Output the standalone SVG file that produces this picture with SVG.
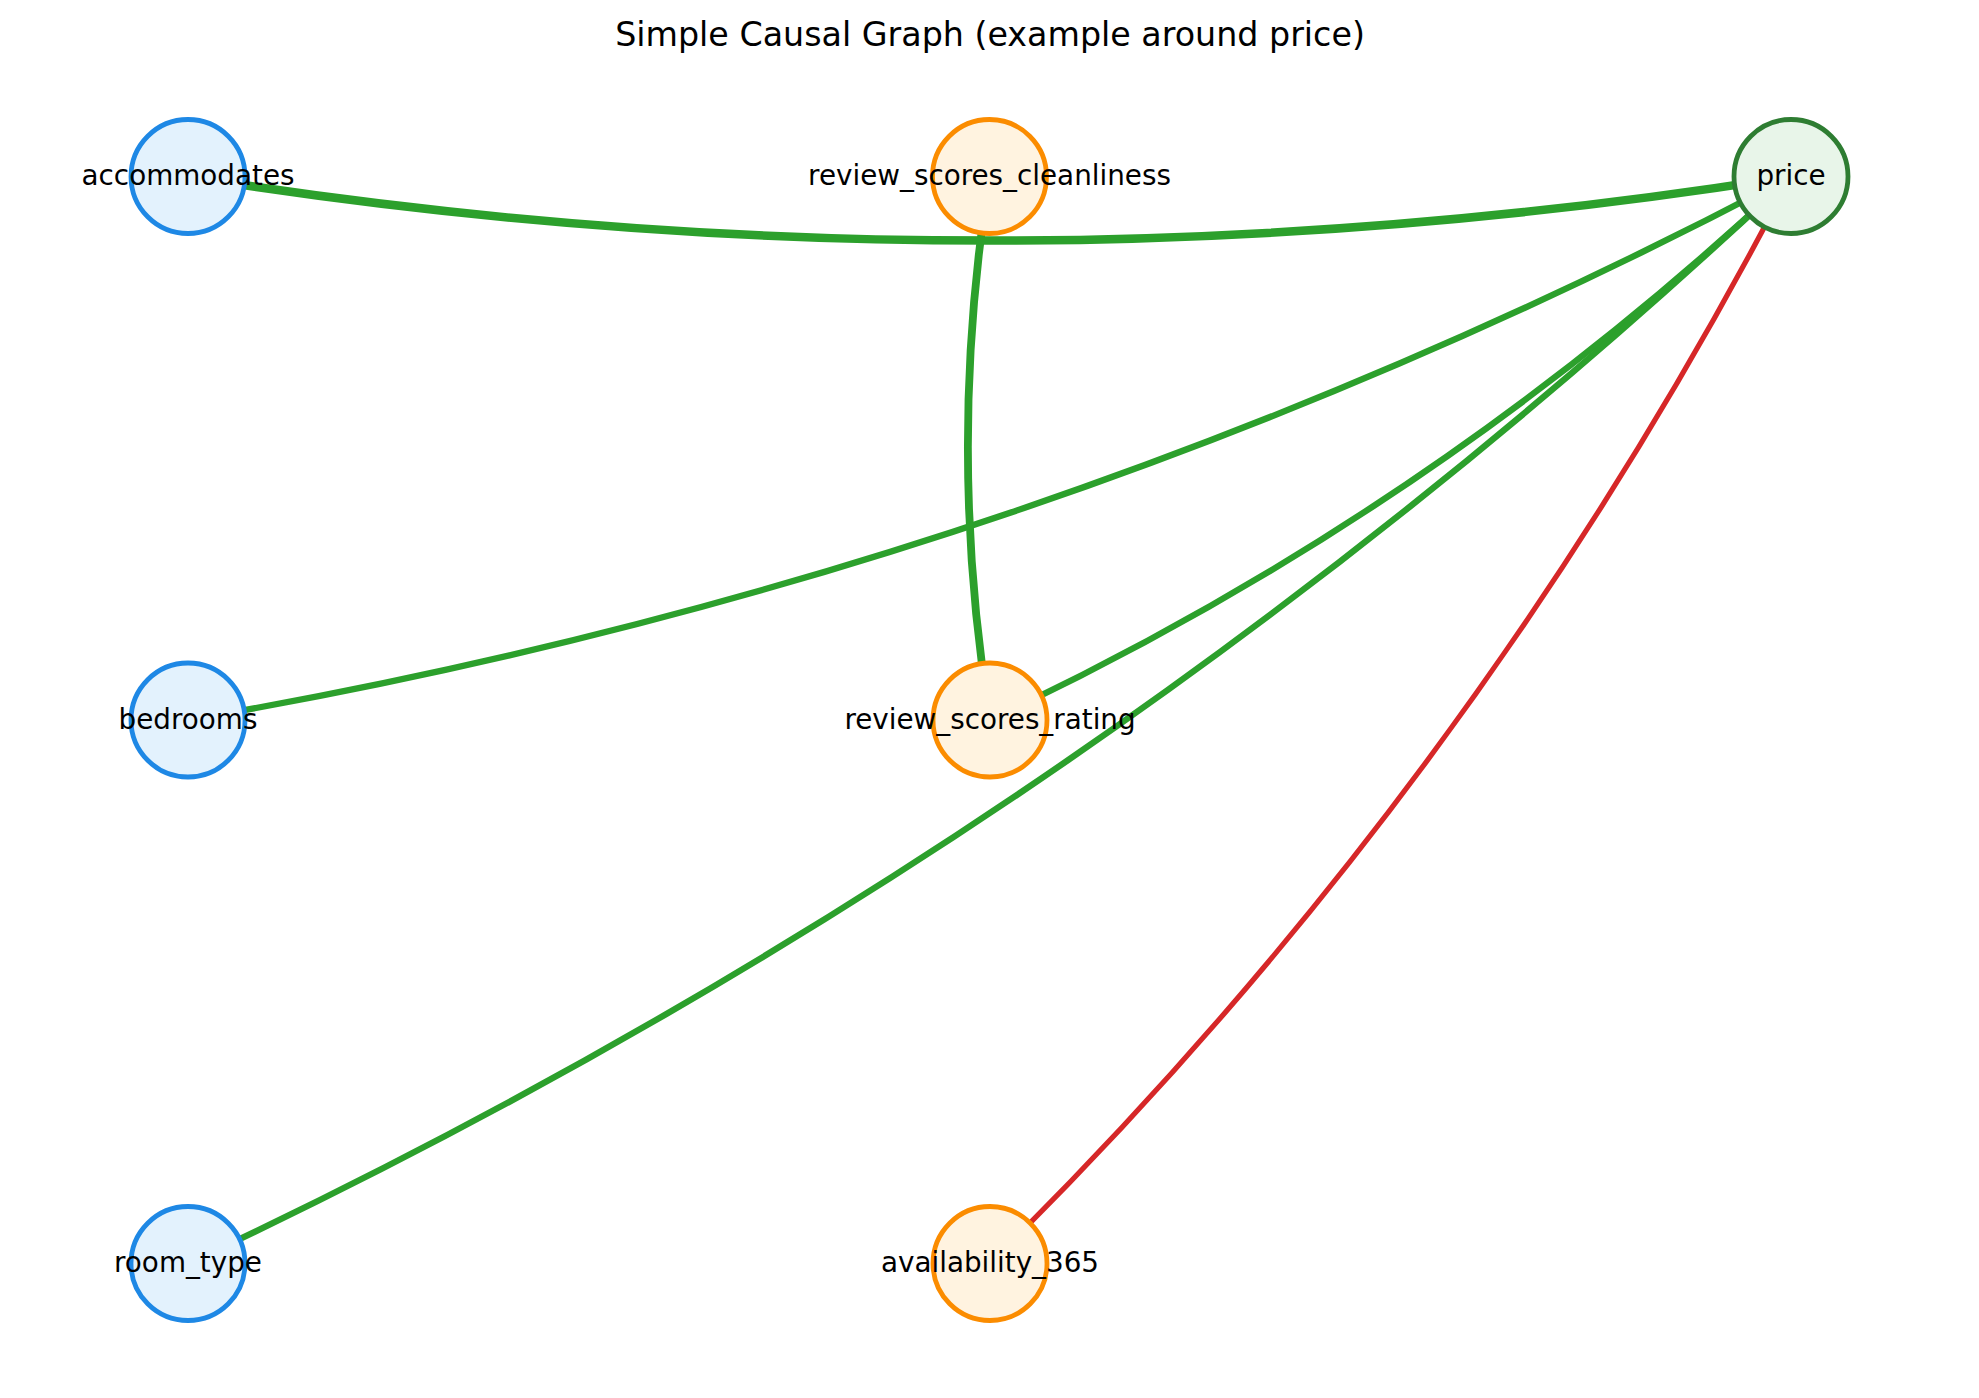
<svg xmlns="http://www.w3.org/2000/svg" width="1979" height="1398" viewBox="0 0 1979 1398">
<style>
.bg{fill:#ffffff}
.e{fill:none;stroke-linecap:butt}
.g{stroke:#2ca02c}
.r{stroke:#d62728}
.n{stroke-width:4.8}
.feat{fill:#e3f2fd;stroke:#1e88e5}
.med{fill:#fff3e0;stroke:#fb8c00}
.tgt{fill:#e8f5e9;stroke:#2e7d32}
.lbl{font-family:"DejaVu Sans",sans-serif;font-size:27.8px;fill:#000;text-anchor:middle}
.title{font-family:"DejaVu Sans",sans-serif;font-size:33.3px;fill:#000;text-anchor:middle}
</style>
<rect class="bg" x="0" y="0" width="1979" height="1398"/>
<text class="title" x="990" y="46">Simple Causal Graph (example around price)</text>
<g id="edges">
<path class="e g" stroke-width="8.5" d="M188,176.5 Q989.5,304.7 1791,176.5"/>
<path class="e g" stroke-width="7.8" d="M989.5,176.5 Q946,448.25 990,720"/>
<path class="e g" stroke-width="6.3" d="M188,720 Q1033,576.5 1791,176.5"/>
<path class="e g" stroke-width="6.3" d="M990,720 Q1434,512.3 1791,176.5"/>
<path class="e g" stroke-width="6.3" d="M188,1263.5 Q1076.5,848.2 1791,176.5"/>
<path class="e r" stroke-width="5.2" d="M989.5,1263.5 Q1477,784 1791,176.5"/>
</g>
<g id="node-accommodates"><circle class="n feat" cx="188" cy="176.5" r="57"/><text class="lbl" x="188" y="185">accommodates</text></g>
<g id="node-review_scores_cleanliness"><circle class="n med" cx="989.5" cy="176.5" r="57"/><text class="lbl" x="989.5" y="185">review_scores_cleanliness</text></g>
<g id="node-price"><circle class="n tgt" cx="1791" cy="176.5" r="57"/><text class="lbl" x="1791" y="185">price</text></g>
<g id="node-bedrooms"><circle class="n feat" cx="188" cy="720" r="57"/><text class="lbl" x="188" y="728.5">bedrooms</text></g>
<g id="node-review_scores_rating"><circle class="n med" cx="990" cy="720" r="57"/><text class="lbl" x="990" y="728.5">review_scores_rating</text></g>
<g id="node-room_type"><circle class="n feat" cx="188" cy="1263.5" r="57"/><text class="lbl" x="188" y="1272">room_type</text></g>
<g id="node-availability_365"><circle class="n med" cx="990" cy="1263.5" r="57"/><text class="lbl" x="990" y="1272">availability_365</text></g>
</svg>
